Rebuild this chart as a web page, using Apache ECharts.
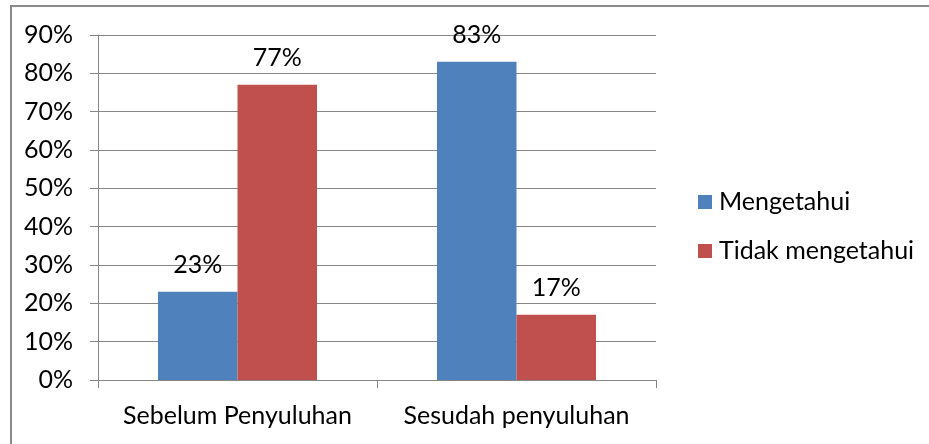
<!DOCTYPE html>
<html>
<head>
<meta charset="utf-8">
<script src="https://cdn.jsdelivr.net/npm/echarts@6/dist/echarts.min.js"></script>
<style>
html,body{margin:0;padding:0;background:#fff;}
#c{width:929px;height:444px;}
</style>
</head>
<body>
<div id="c"></div>
<script>
var categories = ['Sebelum Penyuluhan', 'Sesudah penyuluhan'];
var seriesNames = ['Mengetahui', 'Tidak mengetahui'];
var mengetahui = [23, 83];
var tidakMengetahui = [77, 17];
var yTicks = { min: 0, max: 90, interval: 10 };

var FONT = 'Lato';
var FS = 25;
var chart = echarts.init(document.getElementById('c'), null, { renderer: 'canvas' });
var labelOpt = {
  show: true, position: 'top', distance: 14,
  formatter: '{c}%', color: '#000', fontFamily: FONT, fontSize: FS
};
chart.setOption({
  animation: false,
  backgroundColor: '#fff',
  graphic: [{
    type: 'polyline', shape: { points: [[11, 460], [11, 6], [940, 6]] },
    style: { fill: 'none', stroke: '#8a8a8a', lineWidth: 2 }, silent: true
  }],
  grid: { left: 98, top: 35, width: 558, height: 345, containLabel: false },
  legend: {
    orient: 'vertical', left: 693, top: 184, padding: 5, itemWidth: 14, itemHeight: 14, itemGap: 23,
    icon: 'rect',
    data: seriesNames,
    textStyle: { fontFamily: FONT, fontSize: FS, color: '#000', lineHeight: 26, padding: [0, 0, 0, 2] }
  },
  xAxis: {
    type: 'category', data: categories,
    axisLine: { lineStyle: { color: '#868686', width: 1 } },
    axisTick: { show: true, length: 8, lineStyle: { color: '#868686' } },
    axisLabel: { interval: 0, hideOverlap: false, color: '#000', fontFamily: FONT, fontSize: FS, margin: 23 }
  },
  yAxis: {
    type: 'value', min: yTicks.min, max: yTicks.max, interval: yTicks.interval,
    axisLine: { show: true, lineStyle: { color: '#868686', width: 1 } },
    axisTick: { show: true, length: 8, lineStyle: { color: '#868686' } },
    splitLine: { show: true, lineStyle: { color: '#868686', width: 1 } },
    axisLabel: { formatter: '{value}%', color: '#000', fontFamily: FONT, fontSize: FS, margin: 25 }
  },
  series: [
    { name: seriesNames[0], type: 'bar', data: mengetahui, barGap: '0%', barCategoryGap: '43%',
      itemStyle: { color: '#4F81BD' }, label: labelOpt },
    { name: seriesNames[1], type: 'bar', data: tidakMengetahui, barGap: '0%', barCategoryGap: '43%',
      itemStyle: { color: '#C0504D' }, label: labelOpt }
  ]
});
</script>
</body>
</html>
